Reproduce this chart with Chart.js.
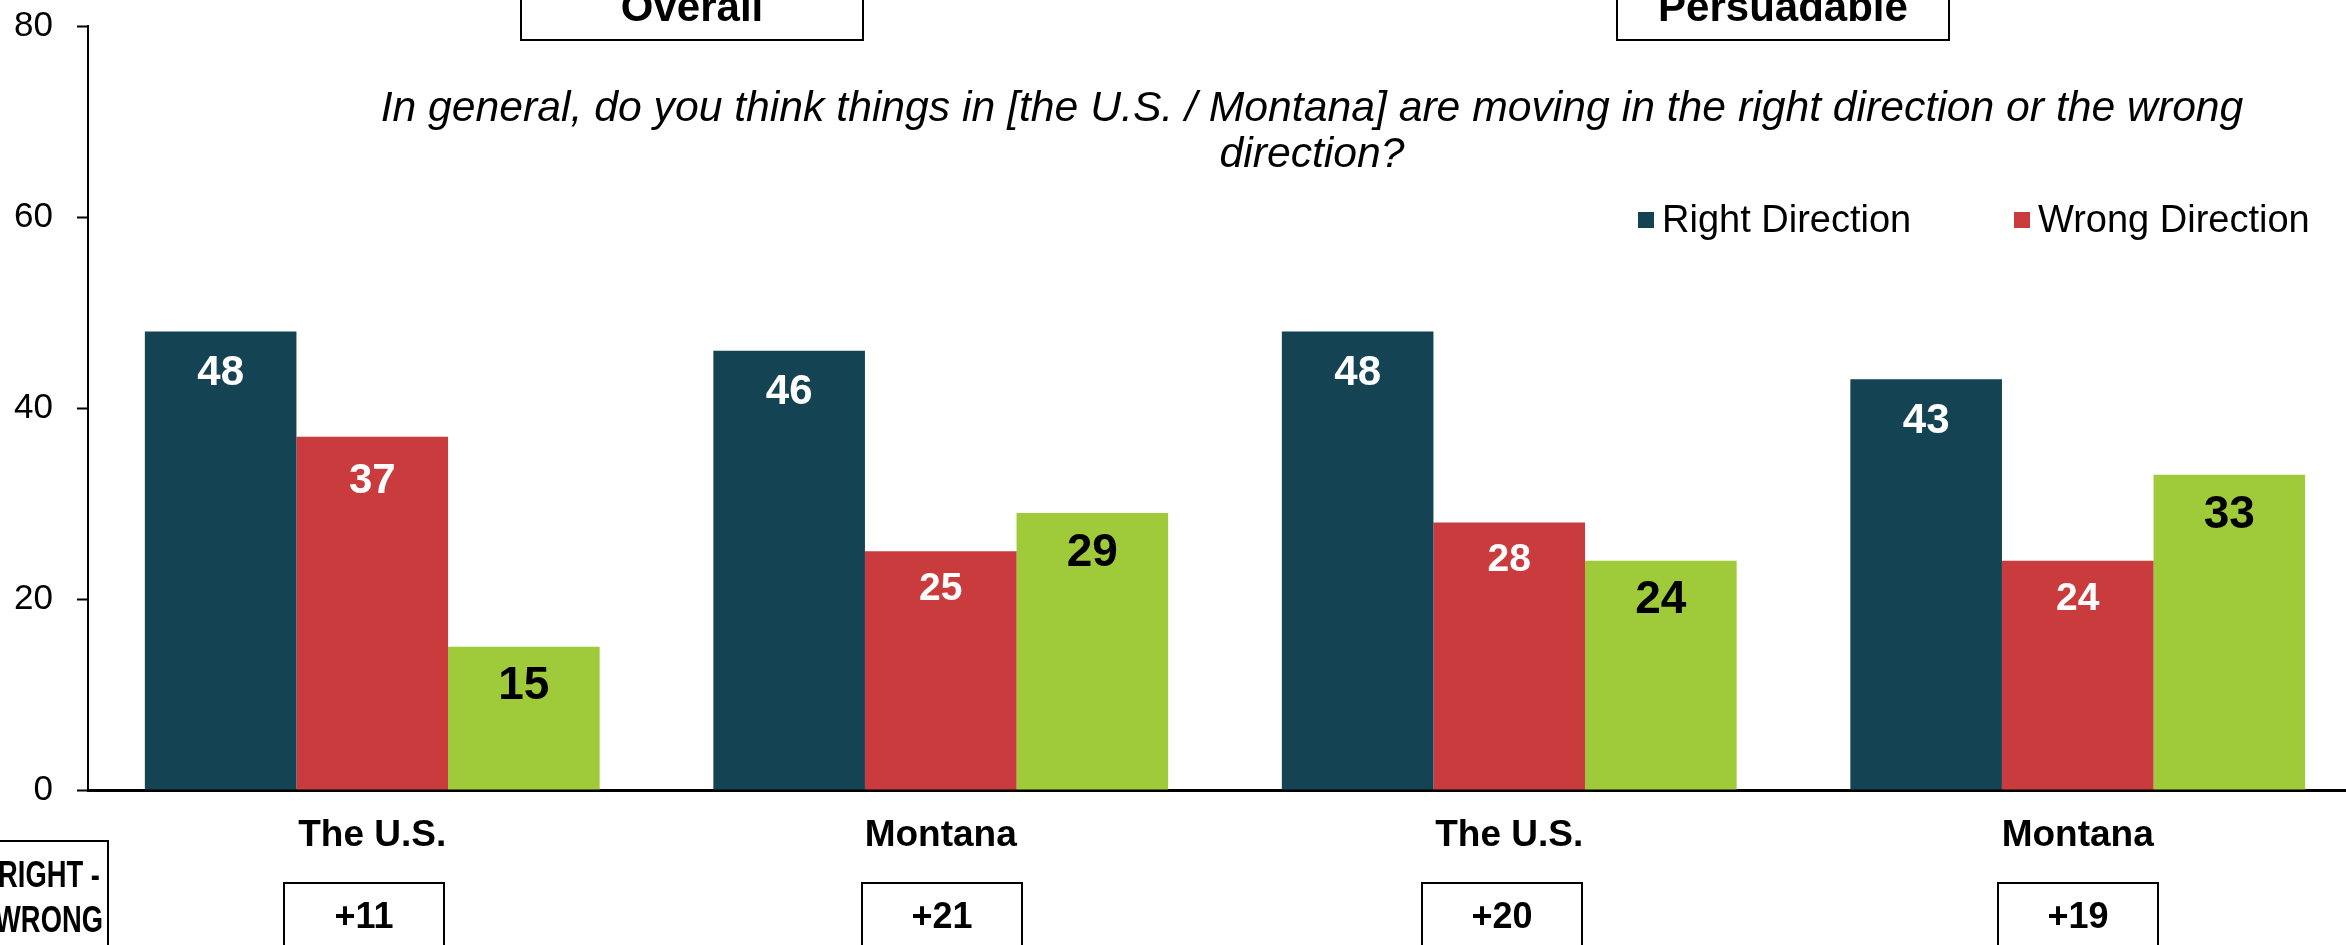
<!DOCTYPE html>
<html>
<head>
<meta charset="utf-8">
<script src="https://cdn.jsdelivr.net/npm/chart.js@4.4.0/dist/chart.umd.min.js"></script>
<style>
  html, body { margin: 0; padding: 0; background: #fff; overflow: hidden; }
  canvas { display: block; }
</style>
</head>
<body>
<canvas id="c" width="2380" height="945"></canvas>
<script>
// --- data ---
var categories = ['The U.S.', 'Montana', 'The U.S.', 'Montana'];
var rightDir   = [48, 46, 48, 43];
var wrongDir   = [37, 25, 28, 24];
var otherVals  = [15, 29, 24, 33];
var yTicks     = [0, 20, 40, 60, 80];
var panels     = ['Overall', 'Persuadable'];
var question   = ['In general, do you think things in [the U.S. / Montana] are moving in the right direction or the wrong', 'direction?'];
var diffTitle  = ['RIGHT -', 'WRONG'];

var NAVY = '#144453', RED = '#C93B3C', GREEN = '#9FCB3B';
var FONT = '"Liberation Sans", Arial, sans-serif';

// right minus wrong, shown in the boxes under each group
var diffs = rightDir.map(function (v, i) {
  var d = v - wrongDir[i];
  return (d > 0 ? '+' : '') + d;
});

function box(ctx, x, y, w, h) {
  ctx.strokeStyle = '#000';
  ctx.lineWidth = 2;
  ctx.strokeRect(x, y, w, h);
}

var overlay = {
  id: 'overlay',
  afterDatasetsDraw: function (chart) {
    var ctx = chart.ctx;
    ctx.save();
    ctx.textAlign = 'center';
    ctx.textBaseline = 'middle';
    // value labels inside the bars
    chart.data.datasets.forEach(function (ds, di) {
      var meta = chart.getDatasetMeta(di);
      meta.data.forEach(function (bar, i) {
        ctx.fillStyle = ds.labelColor;
        ctx.font = 'bold ' + ds.labelSize[i] + 'px ' + FONT;
        ctx.fillText(String(ds.data[i]), bar.x, bar.y + ds.labelOffset[i]);
      });
    });
    ctx.restore();
  },
  afterDraw: function (chart) {
    var ctx = chart.ctx;
    ctx.save();
    ctx.fillStyle = '#000';
    ctx.textAlign = 'center';

    // panel headers (cut off at the top edge)
    ctx.font = 'bold 42px ' + FONT;
    ctx.textBaseline = 'alphabetic';
    var px = [[521, 863], [1617, 1949]];
    panels.forEach(function (t, i) {
      box(ctx, px[i][0], -40, px[i][1] - px[i][0], 80);
      ctx.fillText(t, (px[i][0] + px[i][1]) / 2, 21);
    });

    // question
    ctx.textBaseline = 'middle';
    ctx.font = 'italic 42.7px ' + FONT;
    ctx.fillText(question[0], 1312, 109);
    ctx.fillText(question[1], 1312, 155);

    // legend (first two series only)
    ctx.textAlign = 'left';
    ctx.font = '38px ' + FONT;
    var lx = [1638, 2014];
    [0, 1].forEach(function (di, k) {
      var ds = chart.data.datasets[di];
      ctx.fillStyle = ds.backgroundColor;
      ctx.fillRect(lx[k], 212, 16, 16);
      ctx.fillStyle = '#000';
      ctx.fillText(ds.label, lx[k] + 24, 222);
    });

    // right - wrong boxes
    ctx.textAlign = 'center';
    ctx.font = 'bold 36px ' + FONT;
    box(ctx, -60, 841, 168, 140);
    [877, 922].forEach(function (y, k) {
      ctx.save();
      ctx.translate(49, y);
      ctx.scale(0.76, 1);
      ctx.fillText(diffTitle[k], 0, 0);
      ctx.restore();
    });
    var bx = [364, 942, 1502, 2078];
    diffs.forEach(function (d, i) {
      box(ctx, bx[i] - 80, 883, 160, 100);
      ctx.fillText(d, bx[i], 918);
    });
    ctx.restore();
  }
};

new Chart(document.getElementById('c'), {
  type: 'bar',
  data: {
    labels: categories,
    datasets: [
      { label: 'Right Direction', data: rightDir, backgroundColor: NAVY,
        labelColor: '#fff', labelSize: [42, 42, 42, 42], labelOffset: [42, 42, 42, 42] },
      { label: 'Wrong Direction', data: wrongDir, backgroundColor: RED,
        labelColor: '#fff', labelSize: [42, 39, 39, 39], labelOffset: [45, 38, 38, 38] },
      { label: '', data: otherVals, backgroundColor: GREEN,
        labelColor: '#000', labelSize: [46, 46, 46, 46], labelOffset: [40, 40, 40, 40] }
    ]
  },
  options: {
    responsive: false,
    animation: false,
    events: [],
    categoryPercentage: 0.8,
    barPercentage: 1.0,
    layout: { padding: { top: 26, right: 18, left: 0, bottom: 0 } },
    plugins: { legend: { display: false }, tooltip: { enabled: false } },
    scales: {
      x: {
        grid: { display: false, drawTicks: false },
        border: { display: true, color: '#000', width: 3 },
        ticks: { color: '#000', font: { family: FONT, size: 37, weight: 'bold' }, padding: 24 },
        afterFit: function (s) { s.height = 155; s.paddingLeft = 0; s.paddingRight = 0; }
      },
      y: {
        min: 0, max: 80,
        afterBuildTicks: function (s) { s.ticks = yTicks.map(function (v) { return { value: v }; }); },
        grid: { drawOnChartArea: false, drawTicks: true, tickLength: 11, color: '#000', tickWidth: 2 },
        border: { display: true, color: '#000', width: 2 },
        ticks: { color: '#000', font: { family: FONT, size: 35 }, padding: 24 },
        afterFit: function (s) { s.width = 88; s.paddingTop = 0; s.paddingBottom = 0; }
      }
    }
  },
  plugins: [overlay]
});
</script>
</body>
</html>
